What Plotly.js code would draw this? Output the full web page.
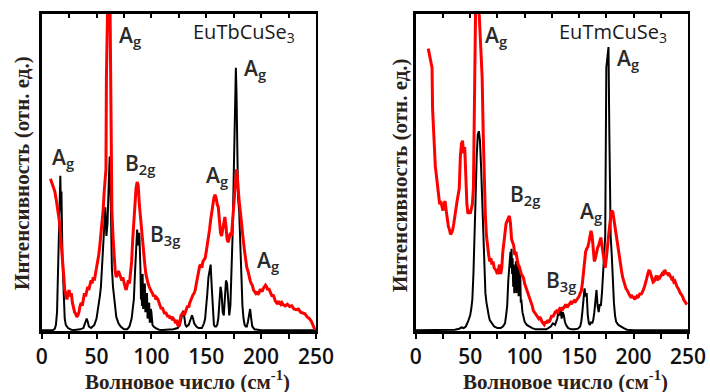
<!DOCTYPE html>
<html><head><meta charset="utf-8">
<script src="https://cdn.plot.ly/plotly-3.0.1.min.js"></script>
<style>html,body{margin:0;padding:0;background:#fff}#plot{width:710px;height:392px}</style>
</head><body><div id="plot"></div>
<script>
// EuTbCuSe3 — black spectrum [wavenumber, intensity]
const tbBlack = [[0,0.3],[5,0.4],[10,0.3],[12,0.8],[13,2],[14,6],[15,18],[16,30],[17,49],[17.6,38],[18,44],[19,22],[20,9],[21,4],[22,2],[24,1],[27,0.5],[30,0.4],[35,0.6],[38,1],[39,2],[40,3.5],[41,4],[42,3],[43,1.5],[45,1],[48,2],[50,4],[52,8],[53,11],[54,14],[55,20],[56,28],[57,36],[58,39],[59,30],[60,34],[61,45],[62,55],[63,40],[64,20],[65,14],[66,10],[67,7],[68,4.5],[70,2.5],[72,1.5],[75,0.6],[78,0.6],[80,1.5],[82,4],[83,7],[84,10],[85,18],[86,26],[87,32],[88,27],[89,31],[90,20],[90.5,10],[91,12],[91.5,8],[92,18],[92.5,7],[93,9],[93.5,13],[94,15],[94.5,6],[95,7],[95.5,11],[96,12],[96.5,4],[97,5],[97.5,8],[98,9],[98.5,3],[99,3],[99.5,7],[100,6],[101,2],[102,1.5],[104,1],[107,0.5],[110,0.4],[115,0.5],[120,0.6],[124,1],[126,2],[127,3.5],[128,5],[129,6.5],[130,4.5],[131,2],[132,1.5],[134,2],[135,3],[136,4],[137,5],[138,4],[139,2.5],[141,1.5],[143,1],[146,1],[148,2.5],[149,4],[150,7],[151,12],[152,17],[153,20],[154,21],[155,14],[156,5],[157,2],[158,1.5],[159,1.5],[160,2],[161,4],[162,9],[163,14],[164,12],[165,6],[166,5],[167,11],[168,16],[169,15],[170,9],[171,5],[172,8],[173,18],[174,30],[175,48],[176,72],[177,83],[177.6,75],[178,60],[179,42],[180,38],[181,26],[182,14],[183,8],[184,4],[185,2],[186,1.5],[187,1.5],[188,3],[189,6],[190,7],[191,4],[192,1.5],[194,0.6],[197,0.4],[200,0.3],[210,0.3],[220,0.3],[230,0.3],[240,0.3],[250,0.3]];
// EuTbCuSe3 — red spectrum
const tbRed = [[8,48],[9,47],[10,46],[11,45],[12,44],[13,42],[14,40],[15,38],[16,35],[17,31],[18,27],[19,24],[20,18],[21,13],[22,12],[23,10],[24,12],[25,13],[26,11],[27,12],[28,9],[29,7],[30,6],[31,5.5],[32,4.5],[33,5],[34,6],[35,8],[36,9],[37,8],[38,11],[39,12],[40,11],[41,13],[42,14],[43,13],[44,15],[45,16],[46,15],[47,17],[48,16],[49,18],[50,19],[51,22],[52,24],[53,27],[54,30],[55,34],[56,38],[57,44],[58,48],[58.6,51],[59,80],[59.6,105],[60,115],[61,120],[62,115],[63,75],[63.5,50],[64,38],[65,30],[66,24],[67,19],[68,17],[69,18],[70,19],[71,18],[72,17],[73,16],[74,17],[75,15],[76,14],[77,13],[78,15],[79,16],[80,15],[81,18],[82,22],[83,29],[84,35],[85,40],[86,45],[87,47],[88,46],[89,40],[90,36],[91,33],[92,28],[93,23],[94,21],[95,18],[96,16],[97,15],[98,14],[99,13],[100,12.5],[101,12],[102,11],[103,11.5],[104,10],[105,10.5],[106,10],[107,9],[108,8],[109,7],[110,7.5],[111,6],[112,5.5],[113,6],[114,5],[115,4.5],[116,5],[117,4],[118,4.7],[119,3.5],[120,4],[121,3.5],[122,2.5],[123,3.6],[124,2],[125,1.5],[126,3],[127,5],[128,5.5],[129,6],[130,5],[131,6.5],[132,7],[133,8],[134,7.5],[135,9],[136,10],[137,11],[138,11.5],[139,12],[140,13],[141,15],[142,17],[143,19],[144,20.5],[145,21],[146,20],[147,22],[148,22.5],[149,23],[150,25],[151,27],[152,30],[153,32],[154,35],[155,38],[156,41],[157,42],[158,43],[159,42],[160,40],[161,39],[162,35],[163,31],[164,30],[165,32],[166,35],[167,36],[168,33],[169,29],[170,28],[171,30],[172,31],[173,30],[174,35],[175,40],[176,43],[177,48],[177.6,51],[178.5,48],[179,44],[180,41],[181,38],[182,34],[183,31],[184,28],[185,25],[186,22],[187,20],[188,19],[189,17],[190,16],[191,15],[192,14.5],[193,13],[194,12.5],[195,12],[196,12.5],[197,11.5],[198,12],[199,13],[200,13],[201,12.5],[202,13.5],[203,14],[204,14.5],[205,14],[206,13],[207,13.5],[208,12.5],[209,12],[210,11],[211,11.5],[212,10],[213,9.5],[214,9],[215,9.5],[216,8.5],[217,9],[218,8.5],[219,9],[220,8.4],[222,8],[224,8.5],[226,7.8],[228,8],[230,7],[232,6.8],[234,7],[236,6],[238,5.7],[240,5.5],[242,4.5],[244,4],[246,3],[247,2.2],[248,1.5],[249,0.5]];
// EuTmCuSe3 — black spectrum
const tmBlack = [[0,0.3],[10,0.3],[20,0.3],[30,0.4],[36,0.5],[40,0.8],[42,1.2],[44,1],[46,1.5],[48,3],[50,5],[51,7],[52,10],[53,18],[54,28],[55,42],[56,55],[57,62],[58,63],[59,60],[60,52],[61,42],[62,33],[63,20],[64,12],[65,9],[66,6.5],[67,5],[68,3.5],[70,2.5],[72,1.5],[75,1],[78,1],[80,1.5],[82,2.5],[83,5],[84,8],[85,16],[86,21],[87,25],[87.5,20],[88,26],[88.5,18],[89,23],[89.5,14],[90,21],[90.5,12],[91,20],[91.5,13],[92,22],[92.5,12],[93,23],[93.5,14],[94,22],[94.5,11],[95,20],[95.5,12],[96,18],[96.5,9],[97,10],[98,6],[99,4],[100,3],[102,2],[104,1.5],[107,1],[110,0.6],[115,0.5],[120,0.6],[124,1.5],[126,2.5],[128,2],[130,4],[131,6],[132,5],[133,7],[134,4],[135,6],[136,5],[137,3],[138,2],[140,1],[143,0.6],[146,0.6],[149,0.8],[151,1.5],[152,3],[153,6],[154,10],[155,13.5],[156,11],[157,12],[158,5],[159,2.5],[160,2],[161,3],[162,2.5],[163,3.5],[164,6],[165,9],[166,13],[167,8],[168,6],[169,8.5],[170,8],[171,12],[172,18],[173,22],[174,30],[175,83],[176,86],[177,89.5],[177.8,62],[178.5,35],[179,30],[180,24],[181,14],[182,9],[183,5],[184,3],[186,2],[188,1.5],[191,1],[194,0.5],[200,0.3],[210,0.3],[220,0.3],[230,0.3],[240,0.3],[250,0.3]];
// EuTmCuSe3 — red spectrum
const tmRed = [[11.5,89],[12,88],[13,86],[14,84],[15,83],[15.5,70],[16,65],[17,60],[17.5,55],[18,52],[19,49],[20,46],[21,42],[22,40],[23,41],[24,39],[25,38],[26,40],[27,41],[28,38],[29,35],[30,33],[31,32],[32,30.5],[33,31],[34,32],[35,34],[36,36.8],[37,38],[38,41],[39,43],[40,45],[41,55],[42,59],[43,60],[44,56],[45,58],[46,47],[47,40],[48,37],[49,38],[50,37],[51,39],[52,40],[53,45],[54,72],[55,102],[56,104],[57,100],[58,102],[59,93],[60,90],[61,80],[62,62],[63,46],[64,36],[65,30],[66,26],[67,24],[68,22],[69,23],[70,21],[71,22],[72,20],[73,19.5],[74,19],[75,18],[76,20],[77,21],[78,18],[79,20],[80,25],[81,29],[82,31],[83,34],[84,35],[85,36],[86,36.3],[87,34],[88,29],[89,28],[90,27],[91,24],[92,25],[93,23],[94,21],[95,20.5],[96,19],[97,18],[98,17.5],[99,16.8],[100,15],[101,14],[102,13],[103,12],[104,11.6],[105,10],[106,9],[107,8],[108,6.5],[109,6],[110,5.5],[111,5],[112,4.5],[113,4],[114,4.5],[115,3.5],[116,3],[117,2.5],[118,2.1],[119,3],[120,2.5],[121,3.5],[122,3],[123,3.2],[124,4],[125,5],[126,4.5],[127,5.5],[128,6],[129,6.3],[130,5.5],[131,6.5],[132,7],[133,6.5],[134,7.5],[135,7],[136,7.4],[137,8],[138,7.5],[139,8.5],[140,8],[141,8.4],[142,9],[143,8.5],[144,9.5],[145,9],[146,10],[147,9.5],[148,10],[149,10.5],[150,11],[151,12],[152,12.6],[153,15],[154,19],[155,23],[156,25],[157,26],[158,26.5],[159,28],[160,30],[161,31.6],[162,30],[163,26],[164,22],[165,23],[166,25],[167,26.3],[168,27],[169,28],[170,29.5],[171,27],[172,24],[173,21],[174,20],[175,23],[176,27],[177,30],[178,33],[179,36],[180,38],[181,37.5],[182,35],[183,33.7],[184,31],[185,28],[186,25.3],[187,23],[188,21],[189,19],[190,17],[191,15.5],[192,14.7],[193,13.5],[194,13],[195,12],[196,11.6],[197,11],[198,11.5],[199,10.5],[200,11],[201,10],[202,10.5],[203,11],[204,10.5],[205,11.5],[206,12],[207,11.5],[208,12.6],[209,13],[210,14],[211,15],[212,16.5],[213,18],[214,19],[215,18.9],[216,17.5],[217,16],[218,15.5],[219,15.8],[220,16.5],[221,17.5],[222,16],[223,17],[224,16.8],[225,17.5],[226,18],[227,17.5],[228,18.9],[229,19],[230,18],[231,18.5],[232,17.5],[233,17.9],[234,17],[235,16.5],[236,16.8],[237,15.5],[238,15.8],[239,14.5],[240,14],[241,13.5],[242,12.6],[243,12],[244,11.5],[245,11],[246,10],[247,9.5],[248,9],[249,8.4]];

const tickVals = [0, 50, 100, 150, 200, 250];
const tickText = ['0', '50', '100', '150', '200', '250'];
const topTickVals = [25, 50, 75, 100, 125, 150, 175, 200, 225];
const compounds = ['EuTbCuSe<sub>3</sub>', 'EuTmCuSe<sub>3</sub>'];
// mode labels: [panel, wavenumber, intensity, text]
const modeLabels = [
  [0, 7.6, 54.6, 'A<sub>g</sub>'],
  [0, 68.4, 93, 'A<sub>g</sub>'],
  [0, 74.4, 52.7, 'B<sub>2g</sub>'],
  [0, 97.2, 30.4, 'B<sub>3g</sub>'],
  [0, 148, 49, 'A<sub>g</sub>'],
  [0, 182.3, 82.7, 'A<sub>g</sub>'],
  [0, 194.4, 22, 'A<sub>g</sub>'],
  [1, 61.5, 93, 'A<sub>g</sub>'],
  [1, 183, 85.8, 'A<sub>g</sub>'],
  [1, 85, 43, 'B<sub>2g</sub>'],
  [1, 118, 15.8, 'B<sub>3g</sub>'],
  [1, 148.7, 37.4, 'A<sub>g</sub>']
];
const compoundPos = [[135.8, 94], [129.5, 94.2]];
const xTitle = 'Волновое число (см<sup>-1</sup>)';
const yTitle = 'Интенсивность (отн. ед.)';

const xs = a => a.map(p => p[0]);
const ys = a => a.map(p => p[1]);

const traces = [
  {x: xs(tbBlack), y: ys(tbBlack), xaxis: 'x', yaxis: 'y', mode: 'lines', line: {color: '#000', width: 2}},
  {x: xs(tbRed), y: ys(tbRed), xaxis: 'x', yaxis: 'y', mode: 'lines', line: {color: '#ff0000', width: 3}},
  {x: xs(tmBlack), y: ys(tmBlack), xaxis: 'x2', yaxis: 'y2', mode: 'lines', line: {color: '#000', width: 2}},
  {x: xs(tmRed), y: ys(tmRed), xaxis: 'x2', yaxis: 'y2', mode: 'lines', line: {color: '#ff0000', width: 3}},
  {x: [0], y: [-50], xaxis: 'x3', yaxis: 'y', mode: 'markers', hoverinfo: 'skip'},
  {x: [0], y: [-50], xaxis: 'x4', yaxis: 'y2', mode: 'markers', hoverinfo: 'skip'}
];

const tickFont = {family: 'Open Sans, sans-serif', size: 21, color: '#111', weight: 600};
function xAx(domain, anchor) {
  return {domain, anchor, range: [0, 250], showgrid: false, zeroline: false,
    showline: true, mirror: true, linecolor: '#000', linewidth: 2.5,
    ticks: 'outside', ticklen: 5, tickwidth: 2, tickcolor: '#000',
    tickvals: tickVals, ticktext: tickText, tickfont: tickFont,
    minor: {tickvals: [25, 75, 125, 175, 225], ticks: 'outside', ticklen: 5, tickwidth: 2, tickcolor: '#000'}};
}
function yAx(anchor) {
  return {domain: [0.155, 0.965], anchor, range: [0, 100], showgrid: false, zeroline: false,
    showline: true, mirror: true, linecolor: '#000', linewidth: 2.5,
    ticks: '', showticklabels: false};
}
function topAx(over, anchor) {
  return {overlaying: over, anchor, side: 'top', range: [0, 250], showgrid: false, zeroline: false,
    showline: false, ticks: 'inside', ticklen: 4, tickwidth: 2, tickcolor: '#000',
    tickvals: topTickVals, showticklabels: false};
}

const annotations = [];
modeLabels.forEach(m => annotations.push({
  xref: m[0] ? 'x2' : 'x', yref: m[0] ? 'y2' : 'y', x: m[1], y: m[2], text: m[3],
  showarrow: false, xanchor: 'left', yanchor: 'middle',
  font: {family: 'Open Sans, sans-serif', size: 21, color: '#2a2a2a', weight: 600}
}));
compounds.forEach((c, i) => annotations.push({
  xref: i ? 'x2' : 'x', yref: i ? 'y2' : 'y', x: compoundPos[i][0], y: compoundPos[i][1], text: c,
  showarrow: false, xanchor: 'left', yanchor: 'middle',
  font: {family: 'Open Sans, sans-serif', size: 20, color: '#1a1a1a'}
}));
[[0.031, 0.559], [0.5634, 0.5536]].forEach(p => annotations.push({
  xref: 'paper', yref: 'paper', x: p[0], y: p[1], text: yTitle, textangle: -90,
  showarrow: false, xanchor: 'center', yanchor: 'middle',
  font: {family: 'Liberation Serif, serif', size: 21, color: '#2b2118', weight: 700}
}));
[[0.2634, 0.03], [0.7958, 0.03]].forEach(p => annotations.push({
  xref: 'paper', yref: 'paper', x: p[0], y: p[1], text: xTitle,
  showarrow: false, xanchor: 'center', yanchor: 'middle',
  font: {family: 'Liberation Serif, serif', size: 21, color: '#2b2118', weight: 700}
}));

const layout = {
  width: 710, height: 392, margin: {l: 0, r: 0, t: 0, b: 0},
  paper_bgcolor: '#fff', plot_bgcolor: '#fff', showlegend: false,
  xaxis: xAx([0.0587, 0.445], 'y'),
  yaxis: yAx('x'),
  xaxis2: xAx([0.5855, 0.969], 'y2'),
  yaxis2: yAx('x2'),
  xaxis3: topAx('x', 'y'),
  xaxis4: topAx('x2', 'y2'),
  annotations
};
Plotly.newPlot('plot', traces, layout, {displayModeBar: false, staticPlot: true});
</script></body></html>
